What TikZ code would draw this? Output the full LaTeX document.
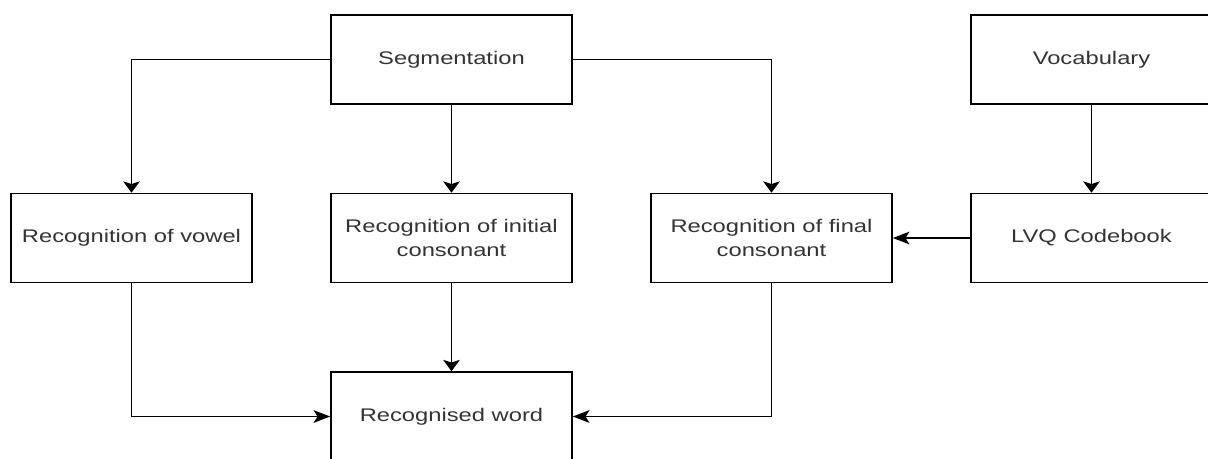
\documentclass[tikz,border=0pt]{standalone}
\usepackage{fontspec}
\setmainfont{Liberation Sans}[FakeStretch=1.3]
\usetikzlibrary{arrows.meta,positioning}

\tikzset{
  block/.style={draw, line width=1.2pt, minimum width=180.75pt, minimum height=66.75pt,
                inner sep=0pt, align=center, text=black!80,
                font=\fontsize{13.7pt}{18pt}\selectfont},
  vline/.style={line width=1.2pt, -{Stealth[length=8.5pt, width=12.5pt, inset=2pt]}},
  hline/.style={line width=1.2pt, -{Stealth[length=12.5pt, width=9.5pt, inset=3pt]}}
}

\begin{document}
\begin{tikzpicture}[node distance=133.875pt and 240pt, on grid]
   \useasboundingbox (0,0) rectangle (906pt,-343.5pt);
   \node[block] (seg)   at (338.625pt,-44.625pt)  {Segmentation};
   \node[block] (vowel) [below left=of seg]       {Recognition of vowel};
   \node[block] (init)  [below=of seg]            {Recognition of initial\\consonant};
   \node[block] (final) [below right=of seg]      {Recognition of final\\consonant};
   \node[block] (lvq)   [right=of final]          {LVQ Codebook};
   \node[block] (vocab) [above=of lvq]            {Vocabulary};
   \node[block] (word)  [below=of init]           {Recognised word};
   % from segmentation
   \draw[vline] (seg.west) -| (vowel.north);
   \draw[vline] (seg) -- (init);
   \draw[vline] (seg.east) -| (final.north);
   % codebook
   \draw[vline] (vocab) -- (lvq);
   \draw[hline] (lvq) -- (final);
   % into the word
   \draw[vline] (init) -- (word);
   \draw[hline] (vowel.south) |- (word.west);
   \draw[hline] (final.south) |- (word.east);
\end{tikzpicture}
\end{document}
